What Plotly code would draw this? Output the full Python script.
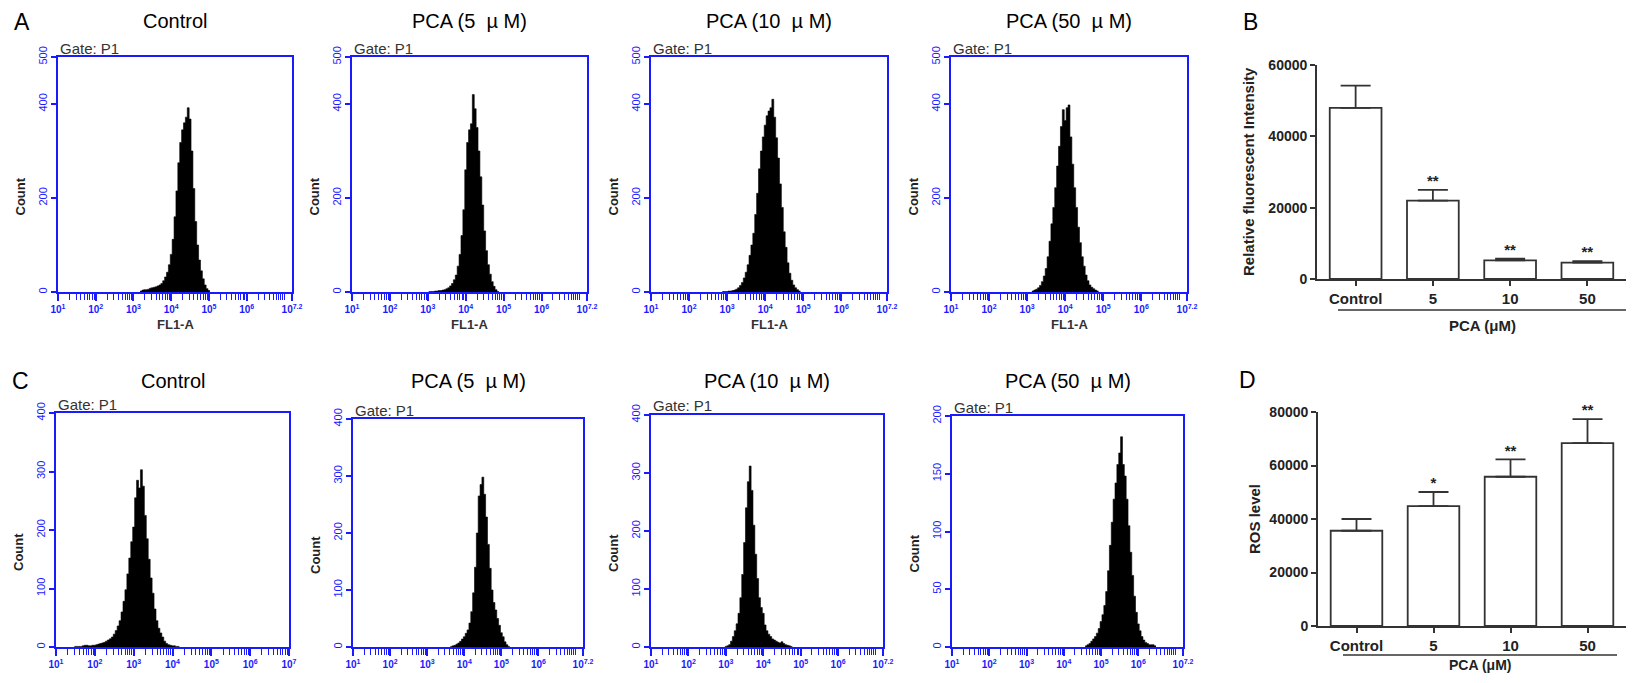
import plotly.graph_objects as go

# page is 1634x683; the browser body has an 8px margin, so the figure is 16px smaller
PAGE_W, PAGE_H, OFF = 1634, 683, 8
W, H = PAGE_W - 2 * OFF, PAGE_H - 2 * OFF
FONT = "Arial, Liberation Sans, sans-serif"
BLUE = "#1a1aff"

# ---------------- data ----------------
HIST_STEP = 0.05  # bin width in log10 units

a_titles = ["Control", "PCA (5  \u00b5 M)", "PCA (10  \u00b5 M)", "PCA (50  \u00b5 M)"]
# Panel A (top row) histograms: start (log10 of first bin centre) and counts
a_ctrl_start = 3.20
a_ctrl_counts = [2, 4, 5, 5, 6, 8, 9, 10, 11, 13, 15, 18, 24, 32, 42, 58, 80, 112, 160, 215, 275, 318,
                 345, 360, 372, 392, 368, 300, 220, 150, 100, 68, 45, 28, 15, 7, 3]
a_pca5_start = 3.05
a_pca5_counts = [1, 1, 1, 2, 2, 3, 3, 4, 5, 7, 9, 13, 18, 26, 36, 55, 80, 120, 175, 260, 318, 345, 358,
                 420, 390, 350, 300, 245, 185, 130, 88, 58, 38, 22, 12, 5, 1]
a_pca10_start = 2.90
a_pca10_counts = [1, 1, 1, 2, 2, 3, 4, 6, 9, 14, 20, 30, 42, 58, 78, 100, 125, 165, 210, 262, 300, 330,
                  355, 375, 385, 392, 410, 372, 328, 285, 230, 180, 128, 95, 62, 40, 25, 15, 9, 5, 2]
a_pca50_start = 3.15
a_pca50_counts = [2, 4, 6, 9, 14, 22, 34, 50, 75, 108, 145, 180, 222, 268, 310, 352, 388, 365, 392, 398,
                  330, 272, 222, 180, 138, 105, 75, 55, 36, 24, 15, 10, 7, 4, 2]

# Panel C (bottom row) histograms
c_ctrl_start = 1.50
c_ctrl_counts = [1, 1, 1, 1, 2, 3, 3, 2, 2, 3, 3, 4, 5, 6, 7, 8, 10, 12, 14, 17, 22, 28, 36, 45, 60, 78,
                 98, 125, 152, 180, 205, 255, 285, 272, 303, 275, 225, 185, 150, 118, 92, 65, 45, 32,
                 24, 17, 10, 6, 4, 3, 2, 2, 1, 1]
c_pca5_start = 3.65
c_pca5_counts = [1, 2, 3, 5, 7, 10, 14, 18, 24, 30, 42, 62, 95, 140, 200, 265, 285, 298, 268, 228, 180,
                 138, 100, 78, 65, 50, 38, 25, 18, 9, 4, 1]
c_pca10_start = 3.00
c_pca10_counts = [1, 2, 4, 10, 18, 28, 40, 58, 85, 125, 180, 240, 285, 312, 270, 210, 160, 118, 85, 68,
                  58, 38, 28, 22, 18, 14, 12, 10, 8, 7, 9, 6, 4, 3, 2, 1]
c_pca50_start = 4.60
c_pca50_counts = [1, 2, 3, 5, 7, 9, 12, 16, 22, 28, 36, 48, 66, 88, 108, 128, 142, 158, 168, 182, 158,
                  148, 128, 105, 82, 62, 44, 30, 20, 14, 9, 6, 4, 3, 2, 2, 2, 1]

# x-axis (log10) upper limits and y-axis ticks per panel
a_xmax = [7.2, 7.2, 7.2, 7.2]
c_xmax = [7.0, 7.2, 7.2, 7.2]
a_yticks = [[0, 200, 400, 500]] * 4
c_yticks = [[0, 100, 200, 300, 400]] * 3 + [[0, 50, 100, 150, 200]]

# Panels B and D (bar charts)
bar_categories = ["Control", "5", "10", "50"]
b_means = [48000, 22000, 5200, 4600]
b_err = [6200, 3000, 500, 400]
b_stars = ["", "**", "**", "**"]
b_yticks = [0, 20000, 40000, 60000]
d_means = [35600, 44800, 55800, 68400]
d_err = [4400, 5300, 6500, 8900]
d_stars = ["", "*", "**", "**"]
d_yticks = [0, 20000, 40000, 60000, 80000]

# ---------------- layout helpers (coordinates given in page pixels) ----------------
def px_x(x):
    return (x - OFF) / W

def px_y(y):
    return 1 - (y - OFF) / H

fig = go.Figure()
annotations = []
shapes = []
layout = {}

def ann(text, x, y, size=12, color="black", angle=0, xanchor="center", yanchor="middle", bold=False):
    annotations.append(dict(text=text, x=px_x(x), y=px_y(y), xref="paper", yref="paper",
                            showarrow=False, textangle=angle, xanchor=xanchor, yanchor=yanchor,
                            font=dict(family=FONT, size=size, color=color,
                                      weight="bold" if bold else "normal")))

def hist_panel(idx, frame, start, counts, xmax, yticks, title, title_y, xlabel_y):
    x0, x1, ytop, ybot = frame
    edges = [10 ** (start + (i - 0.5) * HIST_STEP) for i in range(len(counts) + 1)]
    yv = list(counts) + [counts[-1]]
    xa = "x" if idx == 1 else f"x{idx}"
    ya = "y" if idx == 1 else f"y{idx}"
    fig.add_trace(go.Scatter(x=edges, y=yv, mode="lines", line=dict(color="black", width=0.6, shape="hv"),
                             fill="tozeroy", fillcolor="black", xaxis=xa, yaxis=ya, showlegend=False,
                             hoverinfo="skip"))
    top_dec = int(xmax) if xmax == int(xmax) else int(xmax) - 1
    decades = list(range(1, top_dec + 1))
    tickvals = [10 ** d for d in decades]
    ticktext = [f"10<sup>{d}</sup>" for d in decades]
    if xmax > int(xmax):
        tickvals.append(10 ** xmax)
        ticktext.append(f"10<sup>{xmax:g}</sup>")
    minor_vals = [k * 10 ** d for d in range(1, 8) for k in range(2, 11) if k * 10 ** d < 10 ** xmax - 1]
    kx = "xaxis" if idx == 1 else f"xaxis{idx}"
    ky = "yaxis" if idx == 1 else f"yaxis{idx}"
    layout[kx] = dict(domain=[px_x(x0), px_x(x1)], anchor=ya, type="log", range=[1, xmax],
                      tickmode="array", tickvals=tickvals, ticktext=ticktext, tickangle=0,
                      tickfont=dict(family=FONT, size=10, color=BLUE, weight="bold"),
                      ticks="outside", ticklen=7, tickcolor=BLUE, tickwidth=1.5,
                      minor=dict(tickmode="array", tickvals=minor_vals, ticks="outside", ticklen=6,
                                 tickcolor=BLUE, tickwidth=1, showgrid=False),
                      showline=True, linecolor=BLUE, linewidth=1.5, mirror=True,
                      showgrid=False, zeroline=False, fixedrange=True, automargin=False)
    layout[ky] = dict(domain=[px_y(ybot), px_y(ytop)], anchor=xa, range=[0, yticks[-1]],
                      tickmode="array", tickvals=yticks, ticktext=[str(v) for v in yticks],
                      tickangle=-90, tickfont=dict(family=FONT, size=11, color=BLUE),
                      ticks="outside", ticklen=5, tickcolor=BLUE, tickwidth=1.5,
                      showline=True, linecolor=BLUE, linewidth=1.5, mirror=True,
                      showgrid=False, zeroline=False, fixedrange=True, automargin=False)
    cx = (x0 + x1) / 2
    ann(title, cx, title_y, size=20)
    ann("Gate: P1", x0, ytop - 9, size=15, color="#333333", xanchor="left")
    ann("Count", x0 - 38, (ytop + ybot) / 2 + 22, size=13, angle=-90, bold=True, color="#222222")
    ann("FL1-A", cx, xlabel_y, size=13, bold=True, color="#333333")

a_frames = [(58, 292, 57, 292), (352, 587, 57, 292), (651, 887, 57, 292), (951, 1187, 57, 292)]
c_frames = [(56, 289, 413, 647), (353, 583, 419, 647), (651, 883, 415, 647), (952, 1183, 416, 647)]
a_data = [(a_ctrl_start, a_ctrl_counts), (a_pca5_start, a_pca5_counts),
          (a_pca10_start, a_pca10_counts), (a_pca50_start, a_pca50_counts)]
c_data = [(c_ctrl_start, c_ctrl_counts), (c_pca5_start, c_pca5_counts),
          (c_pca10_start, c_pca10_counts), (c_pca50_start, c_pca50_counts)]

for i in range(4):
    hist_panel(i + 1, a_frames[i], a_data[i][0], a_data[i][1], a_xmax[i], a_yticks[i],
               a_titles[i], 21, 325)
for i in range(4):
    hist_panel(i + 5, c_frames[i], c_data[i][0], c_data[i][1], c_xmax[i], c_yticks[i],
               a_titles[i], 381, 681)

# ---------------- bar charts ----------------
def bar_panel(idx, x0, x1, ytop, ybot, means, errs, stars, yticks, ytitle, ytitle_x,
              line_y, line_x0, line_x1, pca_y, pca_size):
    xa, ya = f"x{idx}", f"y{idx}"
    fig.add_trace(go.Bar(x=bar_categories, y=means, width=0.67,
                         marker=dict(color="white", line=dict(color="#333333", width=1.8)),
                         error_y=dict(type="data", array=errs, arrayminus=[0] * len(errs), symmetric=False,
                                      color="#333333", thickness=1.8, width=15),
                         xaxis=xa, yaxis=ya, showlegend=False))
    fig.add_trace(go.Scatter(x=bar_categories, y=[m + e for m, e in zip(means, errs)], mode="text",
                             text=stars, textposition="top center", cliponaxis=False,
                             textfont=dict(family=FONT, size=15, color="#222222", weight="bold"),
                             xaxis=xa, yaxis=ya, showlegend=False))
    layout[f"xaxis{idx}"] = dict(domain=[px_x(x0), min(1.0, px_x(x1))], anchor=ya, range=[-0.5, 3.5],
                                 type="category", ticks="outside", ticklen=5, tickwidth=1.8,
                                 tickcolor="#333333", showline=True, linecolor="#333333", linewidth=1.8,
                                 tickfont=dict(family=FONT, size=15, color="#222222", weight="bold"),
                                 showgrid=False, zeroline=False, fixedrange=True, automargin=False)
    layout[f"yaxis{idx}"] = dict(domain=[px_y(ybot), px_y(ytop)], anchor=xa, range=[0, yticks[-1]],
                                 tickmode="array", tickvals=yticks, ticktext=[str(v) for v in yticks],
                                 ticks="outside", ticklen=5, tickwidth=1.8,
                                 tickcolor="#333333", showline=True, linecolor="#333333", linewidth=1.8,
                                 tickfont=dict(family=FONT, size=14, color="#222222", weight="bold"),
                                 showgrid=False, zeroline=False, fixedrange=True, automargin=False)
    ann(ytitle, ytitle_x, (ytop + ybot) / 2, size=15, angle=-90, bold=True, color="#222222")
    shapes.append(dict(type="line", xref="paper", yref="paper", x0=px_x(line_x0), x1=px_x(line_x1),
                       y0=px_y(line_y), y1=px_y(line_y), line=dict(color="#333333", width=1.5)))
    ann("PCA (\u03bcM)", (line_x0 + line_x1) / 2, pca_y, size=pca_size, bold=True, color="#222222")

bar_panel(9, 1317, 1634, 65, 279, b_means, b_err, b_stars, b_yticks,
          "Relative fluorescent Intensity", 1248, 310, 1338, 1627, 326, 15)
bar_panel(10, 1318, 1634, 412, 626, d_means, d_err, d_stars, d_yticks,
          "ROS level", 1254, 655, 1343, 1617, 665, 14)

# panel letters
ann("A", 22, 22, size=23)
ann("B", 1250, 22, size=23)
ann("C", 20, 381, size=23)
ann("D", 1247, 380, size=23)

fig.update_layout(width=W, height=H, margin=dict(l=0, r=0, t=0, b=0, autoexpand=False),
                  paper_bgcolor="white", plot_bgcolor="white",
                  annotations=annotations, shapes=shapes, bargap=0.3, **layout)

fig.write_html("out.html")
